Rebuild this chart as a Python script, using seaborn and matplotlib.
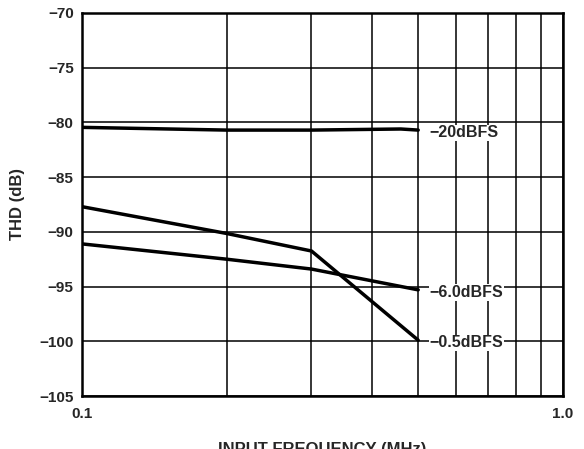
import numpy as np
import pandas as pd
import matplotlib
matplotlib.use('Agg')
import matplotlib.pyplot as plt
import seaborn as sns
from matplotlib.ticker import FixedLocator, NullFormatter

# values
freq_20 = [0.1, 0.2, 0.3, 0.46, 0.5]
thd_20 = [-80.45, -80.7, -80.7, -80.6, -80.7]

freq_6 = [0.1, 0.2, 0.3, 0.5]
thd_6 = [-91.1, -92.5, -93.4, -95.3]

freq_05 = [0.1, 0.2, 0.3, 0.5]
thd_05 = [-87.7, -90.15, -91.75, -99.9]

series_names = ['\u221220dBFS', '\u22126.0dBFS', '\u22120.5dBFS']
y_ticks = [-70, -75, -80, -85, -90, -95, -100, -105]

df = pd.concat([
    pd.DataFrame({'freq': freq_20, 'thd': thd_20, 'series': series_names[0]}),
    pd.DataFrame({'freq': freq_6, 'thd': thd_6, 'series': series_names[1]}),
    pd.DataFrame({'freq': freq_05, 'thd': thd_05, 'series': series_names[2]}),
])

sns.set_style('white')
plt.rcParams['font.family'] = ['Liberation Sans', 'DejaVu Sans']
plt.rcParams['font.weight'] = 'bold'

fig = plt.figure(figsize=(5.84, 4.49), dpi=100)
ax = fig.add_axes([82 / 584, 1 - 396 / 449, 481 / 584, 383 / 449])

sns.lineplot(data=df, x='freq', y='thd', units='series', estimator=None,
             color='black', linewidth=2.5, ax=ax, sort=False, legend=False)

ax.set_xscale('log')
ax.set_xlim(0.1, 1.0)
ax.set_ylim(-105, -70)

ax.xaxis.set_major_locator(FixedLocator([0.1, 1.0]))
ax.set_xticklabels(['0.1', '1.0'])
ax.xaxis.set_minor_locator(FixedLocator([0.2, 0.3, 0.4, 0.5, 0.6, 0.7, 0.8, 0.9]))
ax.xaxis.set_minor_formatter(NullFormatter())
ax.set_yticks(y_ticks)
ax.set_yticklabels([f'\u2212{abs(v)}' for v in y_ticks])

ax.grid(True, which='both', color='black', linewidth=1.1)
ax.set_axisbelow(True)
ax.tick_params(axis='y', which='both', length=0, labelsize=11, pad=6)
ax.tick_params(axis='x', which='both', length=0, labelsize=11, pad=8)
for lbl in ax.get_xticklabels() + ax.get_yticklabels():
    lbl.set_fontweight('bold')

for s in ax.spines.values():
    s.set_color('black')
    s.set_linewidth(1.8)

ax.set_ylabel('THD (dB)', fontsize=12, fontweight='bold', labelpad=10)
ax.set_xlabel('INPUT FREQUENCY (MHz)', fontsize=12, fontweight='bold', labelpad=15)

# series labels at line ends
ends = [(freq_20[-1], thd_20[-1]), (freq_6[-1], thd_6[-1]), (freq_05[-1], thd_05[-1])]
for name, (fx, fy) in zip(series_names, ends):
    ax.annotate(name, xy=(fx, fy), xytext=(8, -2), textcoords='offset points',
                ha='left', va='center', fontsize=11.5, fontweight='bold',
                bbox=dict(boxstyle='square,pad=0.05', fc='white', ec='none'))

fig.savefig('out.png', dpi=100)
